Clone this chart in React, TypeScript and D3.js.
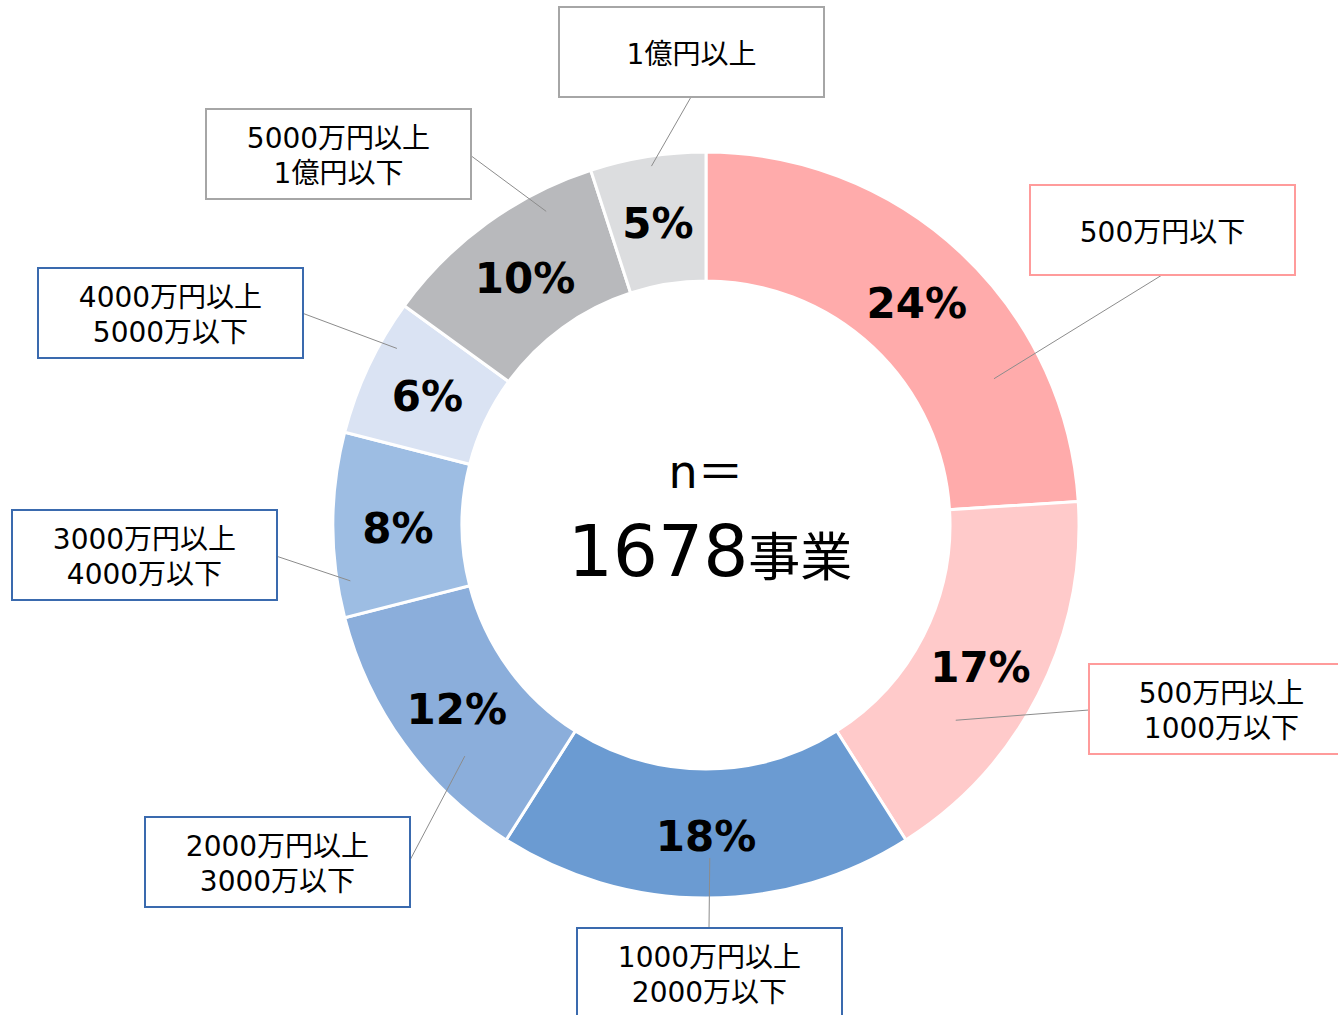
import React from 'react';
import * as d3 from 'd3';

// 事業規模別の構成比（単位：%）
const categories = [
  '500万円以下',
  '500万円以上\n1000万以下',
  '1000万円以上\n2000万以下',
  '2000万円以上\n3000万以下',
  '3000万円以上\n4000万以下',
  '4000万円以上\n5000万以下',
  '5000万円以上\n1億円以下',
  '1億円以上',
];
const shares = [24, 17, 18, 12, 8, 6, 10, 5];
const totalCount = 1678;

const sliceColors = ['#FFABAB', '#FFCACA', '#6B9BD2', '#8BAEDB', '#9DBDE3', '#DAE3F3', '#B8B9BC', '#DCDDDF'];
const boxBorders = ['#FF9B9B', '#FF9B9B', '#3A6AAE', '#3A6AAE', '#3A6AAE', '#3A6AAE', '#A6A6A6', '#A6A6A6'];

// label box placement (top-left), leader start on box, and anchor inside slice (fraction of slice angle, radius)
const boxLayout = [
  { x: 1030, y: 185, sx: 1162, sy: 275, frac: 0.73, r: 323 },
  { x: 1089, y: 664, sx: 1089, sy: 710, frac: 0.68, r: 317 },
  { x: 577, y: 928, sx: 709, sy: 928, frac: 0.49, r: 333 },
  { x: 145, y: 817, sx: 409, sy: 862, frac: 0.32, r: 334 },
  { x: 12, y: 510, sx: 276, sy: 556, frac: 0.19, r: 360 },
  { x: 38, y: 268, sx: 302, sy: 313, frac: 0.71, r: 356 },
  { x: 206, y: 109, sx: 470, sy: 155, frac: 0.75, r: 352 },
  { x: 559, y: 7, sx: 691, sy: 97, frac: 0.52, r: 363 },
];

const W = 1338;
const H = 1015;
const cx = 706;
const cy = 525;
const outerR = 373;
const innerR = 244;
const boxW = 265;
const boxH = 90;
const FONT = '"DejaVu Sans", Verdana, "Noto Sans CJK JP", sans-serif';

export default function App() {
  const pie = d3.pie<number>().sort(null).value(d => d);
  const arcs = pie(shares);
  const arc = d3.arc<d3.PieArcDatum<number>>().innerRadius(innerR).outerRadius(outerR);
  const labelArc = d3.arc<d3.PieArcDatum<number>>().innerRadius(308).outerRadius(308);

  const polar = (angle: number, r: number) => [Math.sin(angle) * r, -Math.cos(angle) * r];

  return (
    <svg width={W} height={H} style={{ position: 'absolute', left: 0, top: 0, background: '#fff' }} fontFamily={FONT}>
      <g transform={`translate(${cx},${cy})`}>
        {arcs.map((a, i) => (
          <path key={i} d={arc(a) || ''} fill={sliceColors[i]} stroke="#fff" strokeWidth={3} />
        ))}
      </g>

      {/* leader lines */}
      {arcs.map((a, i) => {
        const L = boxLayout[i];
        const ang = a.startAngle + (a.endAngle - a.startAngle) * L.frac;
        const [px, py] = polar(ang, L.r);
        return <line key={i} x1={L.sx} y1={L.sy} x2={cx + px} y2={cy + py} stroke="#8C8C8C" strokeWidth={1} />;
      })}

      {/* percentage labels */}
      <g transform={`translate(${cx},${cy})`}>
        {arcs.map((a, i) => {
          const [lx, ly] = labelArc.centroid(a);
          return (
            <text key={i} x={lx} y={ly + 3} textAnchor="middle" dominantBaseline="central"
              fontSize={42} fontWeight="bold" fill="#000">
              {`${shares[i]}%`}
            </text>
          );
        })}
      </g>

      {/* label boxes */}
      {categories.map((c, i) => {
        const L = boxLayout[i];
        const lines = c.split('\n');
        const midY = L.y + boxH / 2 + 2;
        return (
          <g key={i}>
            <rect x={L.x} y={L.y} width={boxW} height={boxH} fill="#fff" stroke={boxBorders[i]} strokeWidth={2} />
            {lines.map((t, j) => (
              <text key={j} x={L.x + boxW / 2} y={midY + (j - (lines.length - 1) / 2) * 35}
                textAnchor="middle" dominantBaseline="central" fontSize={28} fill="#000">
                {t}
              </text>
            ))}
          </g>
        );
      })}

      {/* center text */}
      <text x={cx} y={488} textAnchor="middle" fontSize={46} fill="#000">n＝</text>
      <text x={cx + 4} y={576} textAnchor="middle" fill="#000">
        <tspan fontSize={71}>{totalCount}</tspan>
        <tspan fontSize={52}>事業</tspan>
      </text>
    </svg>
  );
}
